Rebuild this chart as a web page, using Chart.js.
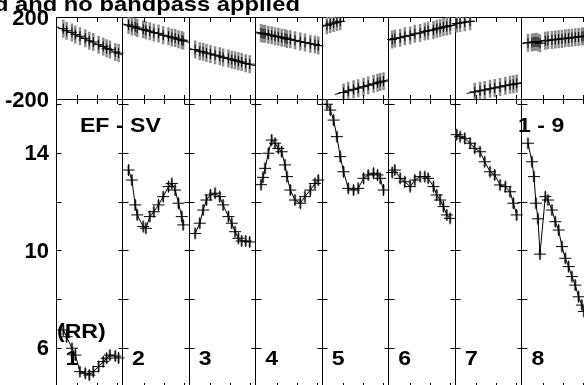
<!DOCTYPE html>
<html>
<head>
<meta charset="utf-8">
<script src="https://cdn.jsdelivr.net/npm/chart.js@4.4.0/dist/chart.umd.min.js"></script>
<style>
  html, body { margin: 0; padding: 0; background: #fff; }
  #wrap { position: relative; width: 584px; height: 385px; overflow: hidden; }
  #plot { position: absolute; left: 0; top: 0; }
  #title {
    position: absolute; left: -6px; top: -7px; color: #000; white-space: nowrap;
    font: bold 21px/21px "Liberation Sans", Arial, sans-serif;
    transform: scaleX(1.13); transform-origin: 0 0;
  }
</style>
</head>
<body>
<div id="wrap">
  <canvas id="plot" width="600" height="392"></canvas>
  <div id="title">d and no bandpass applied</div>
</div>
<script>
const panelLabels = ["1", "2", "3", "4", "5", "6", "7", "8"];
const baselineLabel = "EF - SV";
const channelLabel = "1 - 9";
const stokesLabel = "(RR)";

const phaseTicks = [-200, 0, 200];
const ampTicks = [6, 10, 14];
const ampTickMarks = [6, 8, 10, 12, 14, 16];
const timeTickMarks = [0.315, 0.616, 0.916];

// sample times as a fraction of each panel
const timesByPanel = [
  [0.11, 0.16, 0.24, 0.29, 0.36, 0.44, 0.50, 0.56, 0.64, 0.71, 0.76, 0.81, 0.89, 0.94],
  [0.09, 0.14, 0.19, 0.22, 0.31, 0.35, 0.41, 0.47, 0.54, 0.61, 0.69, 0.74, 0.79, 0.84, 0.89, 0.91],
  [0.09, 0.16, 0.21, 0.26, 0.32, 0.39, 0.46, 0.51, 0.59, 0.64, 0.69, 0.74, 0.79, 0.85, 0.91],
  [0.08, 0.11, 0.14, 0.19, 0.24, 0.29, 0.34, 0.39, 0.44, 0.47, 0.52, 0.59, 0.67, 0.74, 0.82, 0.89, 0.94],
  [0.07, 0.12, 0.17, 0.22, 0.27, 0.32, 0.39, 0.47, 0.54, 0.62, 0.69, 0.77, 0.83, 0.87, 0.92],
  [0.05, 0.09, 0.17, 0.24, 0.32, 0.39, 0.47, 0.54, 0.59, 0.67, 0.72, 0.77, 0.82, 0.87, 0.92],
  [0.02, 0.07, 0.14, 0.22, 0.29, 0.37, 0.44, 0.52, 0.59, 0.67, 0.75, 0.82, 0.87, 0.92],
  [0.09, 0.15, 0.18, 0.21, 0.24, 0.27, 0.35, 0.39, 0.45, 0.50, 0.55, 0.60, 0.65, 0.70, 0.75, 0.80, 0.85, 0.90, 0.93],
];

const ampByPanel = [
  [6.74, 6.46, 5.99, 5.71, 5.03, 4.96, 4.89, 5.03, 5.24, 5.44, 5.58, 5.71, 5.67, 5.59],
  [13.30, 12.89, 11.87, 11.46, 10.98, 10.91, 11.39, 11.59, 11.87, 12.21, 12.62, 12.75, 12.48, 11.94, 11.39, 11.05],
  [10.70, 11.12, 11.66, 12.07, 12.28, 12.35, 12.21, 11.87, 11.39, 11.12, 10.77, 10.50, 10.39, 10.39, 10.35],
  [12.70, 13.00, 13.37, 13.99, 14.53, 14.40, 14.19, 14.05, 13.51, 13.03, 12.48, 12.07, 11.94, 12.21, 12.48, 12.75, 12.89],
  [16.00, 15.76, 15.35, 14.67, 13.85, 13.23, 12.55, 12.48, 12.55, 12.96, 13.10, 13.17, 13.10, 12.96, 12.48],
  [13.20, 13.30, 12.96, 12.82, 12.62, 12.89, 13.03, 13.03, 12.96, 12.62, 12.28, 12.07, 11.80, 11.46, 11.32],
  [14.75, 14.67, 14.60, 14.40, 14.19, 14.05, 13.64, 13.23, 13.10, 12.69, 12.62, 12.41, 11.94, 11.46],
  [14.40, 13.64, 13.03, 11.94, 11.30, 9.85, 12.21, 12.07, 11.66, 11.18, 10.84, 10.16, 9.68, 9.34, 8.93, 8.58, 8.10, 7.76, 7.50],
];

const phaseByPanel = [
  [143, 133, 125, 115, 106, 96, 84, 78, 65, 56, 47, 42, 29, 24],
  [161, 154, 152, 146, 140, 135, 131, 124, 120, 111, 106, 100, 97, 91, 88, 84],
  [41, 33, 30, 24, 20, 14, 9, 3, -2, -8, -11, -16, -20, -26, -30],
  [122, 118, 118, 113, 111, 106, 104, 99, 97, 93, 91, 86, 80, 76, 70, 66, 61],
  [160, 166, 171, 176, 179, -168, -160, -153, -147, -140, -133, -126, -121, -117, -113],
  [90, 95, 99, 106, 110, 118, 122, 129, 133, 137, 143, 146, 151, 154, 158],
  [168, 171, 175, 179, -165, -160, -156, -150, -146, -141, -135, -131, -128, -124],
  [74, 76, 78, 79, 77, 72, 84, 86, 88, 90, 92, 93, 96, 97, 99, 101, 103, 105, 106],
];

// model phase, null = wrap break
const modelTimesByPanel = [
  [0, 1], [0, 1], [0, 1], [0, 1],
  [0, 0.31, null, 0.19, 1],
  [0, 1],
  [0, 0.28, null, 0.17, 1],
  [0, 1],
];
const modelPhaseByPanel = [
  [154, 14], [167, 76], [47, -39], [127, 58],
  [153, 180, null, -178, -105],
  [87, 164],
  [167, 180, null, -173, -119],
  [71, 110],
];

const phasePts = [];
const ampPts = [];
const modelPts = [];
timesByPanel.forEach((ts, k) => {
  ts.forEach((t, i) => {
    phasePts.push({ x: k + t, y: phaseByPanel[k][i] });
    ampPts.push({ x: k + t, y: ampByPanel[k][i] });
  });
  ampPts.push({ x: k + 1, y: null });
  modelTimesByPanel[k].forEach((t, i) => {
    modelPts.push({ x: t === null ? k : k + t, y: modelPhaseByPanel[k][i] });
  });
  modelPts.push({ x: k + 1, y: null });
});

const fontFamily = '"Liberation Sans", Arial, sans-serif';
const font = { family: fontFamily, size: 22, weight: "bold" };
const errColor = "#8c8c8c";

const noPad = (s) => { s.paddingTop = 0; s.paddingBottom = 0; s.paddingLeft = 0; s.paddingRight = 0; };

const panelFrame = {
  id: "panelFrame",
  afterDatasetsDraw(chart) {
    const { ctx, chartArea: a, scales: { x, yPh, yAmp } } = chart;
    ctx.save();
    ctx.strokeStyle = "#000";
    ctx.lineWidth = 1;
    ctx.beginPath();
    panelLabels.forEach((_, k) => {
      const px = Math.round(x.getPixelForValue(k)) + 0.5;
      ampTickMarks.forEach((v) => {
        const py = Math.round(yAmp.getPixelForValue(v)) + 0.5;
        ctx.moveTo(Math.max(a.left, px - 5), py);
        ctx.lineTo(px + 5, py);
      });
      timeTickMarks.forEach((f) => {
        const tx = Math.round(x.getPixelForValue(k + f)) + 0.5;
        ctx.moveTo(tx, yPh.top);
        ctx.lineTo(tx, yPh.top + 5);
        ctx.moveTo(tx, yPh.bottom - 4);
        ctx.lineTo(tx, yPh.bottom + 5);
        ctx.moveTo(tx, yAmp.bottom - 5);
        ctx.lineTo(tx, yAmp.bottom);
      });
    });
    ctx.stroke();
    ctx.restore();
  },
  afterDraw(chart) {
    const { ctx, scales: { x, yAmp } } = chart;
    const put = (text, px, py) => {
      ctx.save();
      ctx.translate(px, py);
      ctx.scale(1.1, 1);
      ctx.fillText(text, 0, 0);
      ctx.restore();
    };
    ctx.save();
    ctx.fillStyle = "#000";
    ctx.font = `bold 21px ${fontFamily}`;
    ctx.textBaseline = "alphabetic";
    ctx.textAlign = "left";
    put(baselineLabel, x.getPixelForValue(0.36), yAmp.top + 33);
    put(channelLabel, x.getPixelForValue(6.94), yAmp.top + 33);
    put(stokesLabel, x.getPixelForValue(0.015), yAmp.bottom - 50);
    panelLabels.forEach((lab, k) => {
      put(lab, x.getPixelForValue(k) + 9.5, yAmp.bottom - 23);
    });
    ctx.restore();
  },
};

new Chart(document.getElementById("plot").getContext("2d"), {
  type: "scatter",
  data: {
    datasets: [
      {
        data: phasePts, yAxisID: "yPh", showLine: false, order: 1,
        pointStyle: "cross", pointRadius: 5, pointBorderColor: "#000", pointBorderWidth: 1,
      },
      {
        data: modelPts, yAxisID: "yPh", showLine: true, order: 2,
        pointRadius: 0, borderColor: "#000", borderWidth: 1,
      },
      {
        data: phasePts.slice(), yAxisID: "yPh", showLine: false, order: 3,
        pointStyle: "line", pointRotation: 90, pointRadius: 9,
        pointBorderColor: errColor, pointBorderWidth: 2.5,
      },
      {
        data: ampPts, yAxisID: "yAmp", showLine: true, order: 1,
        borderColor: "#000", borderWidth: 1,
        pointStyle: "cross", pointRadius: 6, pointBorderColor: "#000", pointBorderWidth: 1,
      },
      {
        data: ampPts.slice(), yAxisID: "yAmp", showLine: false, order: 3,
        pointStyle: "line", pointRotation: 90, pointRadius: 5,
        pointBorderColor: errColor, pointBorderWidth: 2.5,
      },
    ],
  },
  options: {
    responsive: false,
    animation: false,
    events: [],
    layout: { autoPadding: false, padding: { left: 0, top: 17, right: 11.43, bottom: 4 } },
    plugins: { legend: { display: false }, tooltip: { enabled: false } },
    scales: {
      x: {
        type: "linear", min: 0, max: 8,
        ticks: { display: false, stepSize: 1 },
        grid: { color: "#000", lineWidth: 1, drawTicks: false },
        border: { display: false },
        afterFit: (s) => { s.height = 0; noPad(s); },
      },
      yAmp: {
        type: "linear", position: "left", stack: "plot", stackWeight: 289,
        min: 4.359, max: 16.215,
        afterBuildTicks: (s) => { s.ticks = ampTicks.map((v) => ({ value: v })); },
        afterFit: (s) => { s.width = 56; noPad(s); },
        grid: { display: false, drawTicks: false },
        border: { display: false },
        ticks: { color: "#000", font, padding: 7, labelOffset: 1, callback: (v) => String(v) },
      },
      yPh: {
        type: "linear", position: "left", stack: "plot", stackWeight: 82,
        min: -200, max: 200,
        afterBuildTicks: (s) => { s.ticks = phaseTicks.map((v) => ({ value: v })); },
        afterFit: (s) => { s.width = 56; noPad(s); },
        grid: { color: "#000", lineWidth: 1, drawTicks: false },
        border: { display: false },
        ticks: { color: "#000", font, padding: 7, labelOffset: 2, callback: (v) => (v === 0 ? "" : String(v)) },
      },
    },
  },
  plugins: [panelFrame],
});
</script>
</body>
</html>
